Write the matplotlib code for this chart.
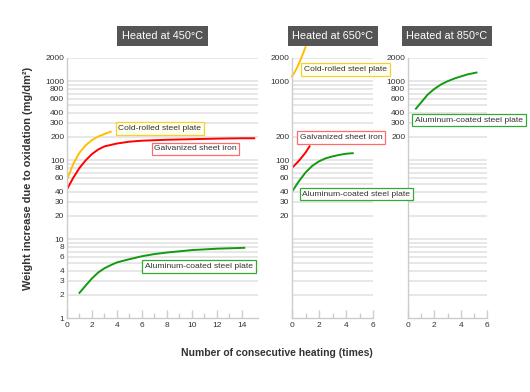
import matplotlib.pyplot as plt
from matplotlib.ticker import FixedLocator, NullFormatter, NullLocator

plt.rcParams['font.family'] = ['Liberation Sans', 'DejaVu Sans']

# ----- data -----
# heated at 450 C
cold_450_x = [0, 0.5, 1, 1.5, 2, 2.5, 3, 3.5]
cold_450_y = [57, 90, 125, 155, 180, 200, 215, 230]
galv_450_x = [0, 0.5, 1, 1.5, 2, 2.5, 3, 4, 5, 6, 8, 10, 12, 14, 15]
galv_450_y = [43, 60, 80, 100, 120, 137, 150, 163, 172, 177, 182, 185, 188, 190, 190]
alu_450_x = [1, 1.5, 2, 2.5, 3, 3.5, 4, 5, 6, 7, 8, 10, 12, 14.2]
alu_450_y = [2.1, 2.6, 3.2, 3.8, 4.3, 4.7, 5.1, 5.6, 6.1, 6.5, 6.8, 7.3, 7.6, 7.8]

# heated at 650 C
cold_650_x = [0, 0.25, 0.5, 0.75, 1.0]
cold_650_y = [1150, 1350, 1650, 2100, 2700]
galv_650_x = [0, 0.5, 1, 1.3]
galv_650_y = [80, 98, 125, 150]
alu_650_x = [0, 0.5, 1, 1.5, 2, 2.5, 3, 3.5, 4, 4.5]
alu_650_y = [40, 54, 70, 85, 97, 106, 112, 117, 121, 123]

# heated at 850 C
alu_850_x = [0.6, 1, 1.5, 2, 2.5, 3, 3.5, 4, 4.5, 5.2]
alu_850_y = [450, 540, 680, 800, 910, 1000, 1080, 1150, 1220, 1290]

grid_vals = [2, 3, 4, 5, 6, 7, 8, 9, 10, 20, 30, 40, 50, 60, 70, 80, 90,
             100, 200, 300, 400, 500, 600, 700, 800, 900, 1000, 2000]
labels_450 = [1, 2, 3, 4, 6, 8, 10, 20, 30, 40, 60, 80, 100, 200, 300, 400, 600, 800, 1000, 2000]
labels_650 = [20, 30, 40, 60, 80, 100, 200, 1000, 2000]
labels_850 = [200, 300, 400, 600, 800, 1000, 2000]

YELLOW = '#ffc000'
RED = '#ff0000'
GREEN = '#129a12'
GRID = '#e0e0e0'
TEXT = '#333333'

fig = plt.figure(figsize=(5.3, 3.92), dpi=100)

W, H = 530.0, 392.0
bottom = 1 - 318.3 / H
height = (318.3 - 57.5) / H
ax1 = fig.add_axes([67 / W, bottom, 191 / W, height])
ax2 = fig.add_axes([292 / W, bottom, 81 / W, height])
ax3 = fig.add_axes([408 / W, bottom, 79 / W, height])


def setup_axis(ax, xmax, xmajor, ylabels, title, title_x):
    ax.set_yscale('log')
    ax.set_ylim(1, 2000)
    ax.set_xlim(0, xmax)
    for v in grid_vals:
        ax.axhline(v, color=GRID, lw=1.1, zorder=0)
    ax.yaxis.set_major_locator(FixedLocator(ylabels))
    ax.yaxis.set_minor_locator(NullLocator())
    ax.yaxis.set_minor_formatter(NullFormatter())
    ax.set_yticklabels([str(v) for v in ylabels])
    ax.tick_params(axis='y', length=0, pad=2, labelsize=6, labelcolor=TEXT)
    ax.set_xticks(xmajor)
    ax.set_xticks([v + 1 for v in xmajor[:-1]], minor=True)
    ax.tick_params(axis='x', which='major', direction='in', length=6, width=1,
                   color='#cccccc', labelsize=6, labelcolor=TEXT, pad=2.5)
    ax.tick_params(axis='x', which='minor', direction='in', length=3.5, width=1,
                   color='#cccccc')
    for s in ['top', 'right']:
        ax.spines[s].set_visible(False)
    for s in ['left', 'bottom']:
        ax.spines[s].set_color('#cccccc')
        ax.spines[s].set_linewidth(1.0)
    fig.text(title_x / W, 1 - 36 / H, title, ha='center', va='center',
             color='white', fontsize=7.8,
             bbox=dict(boxstyle='square,pad=0.42', fc='#555555', ec='none'))


def tag(ax, x, y, text, edge, face='white'):
    # label boxes are placed in pixel coords of the figure
    fig.text(x / W, 1 - y / H, text, ha='center', va='center', fontsize=6.1,
             color=TEXT,
             bbox=dict(boxstyle='square,pad=0.3', fc=face, ec=edge, lw=0.9))


setup_axis(ax1, 15.3, [0, 2, 4, 6, 8, 10, 12, 14], labels_450, 'Heated at 450\u00b0C', 162.5)
setup_axis(ax2, 6, [0, 2, 4, 6], labels_650, 'Heated at 650\u00b0C', 333)
setup_axis(ax3, 6, [0, 2, 4, 6], labels_850, 'Heated at 850\u00b0C', 447)

ax1.plot(cold_450_x, cold_450_y, color=YELLOW, lw=1.4)
ax1.plot(galv_450_x, galv_450_y, color=RED, lw=1.4)
ax1.plot(alu_450_x, alu_450_y, color=GREEN, lw=1.4)

ax2.plot(cold_650_x, cold_650_y, color=YELLOW, lw=1.4, clip_on=False)
ax2.plot(galv_650_x, galv_650_y, color=RED, lw=1.4)
ax2.plot(alu_650_x, alu_650_y, color=GREEN, lw=1.4)

ax3.plot(alu_850_x, alu_850_y, color=GREEN, lw=1.4)

tag(ax1, 160, 128.5, 'Cold-rolled steel plate', '#f5d030', '#fffff0')
tag(ax1, 195.5, 149, 'Galvanized sheet iron', '#ff6a6a')
tag(ax1, 199, 266.5, 'Aluminum-coated steel plate', '#33aa33')
tag(ax2, 345.5, 69.5, 'Cold-rolled steel plate', '#f5d030', '#fffff0')
tag(ax2, 341, 137.5, 'Galvanized sheet iron', '#ff6a6a')
tag(ax2, 356.5, 194, 'Aluminum-coated steel plate', '#33aa33')
tag(ax3, 469, 120, 'Aluminum-coated steel plate', '#33aa33')

fig.text(28 / W, 1 - 178 / H, 'Weight increase due to oxidation (mg/dm\u00b2)',
         rotation=90, ha='center', va='center', fontsize=7.9, fontweight='bold',
         color=TEXT)
fig.text(277 / W, 1 - 353 / H, 'Number of consecutive heating (times)',
         ha='center', va='center', fontsize=7.5, fontweight='bold', color=TEXT)

fig.savefig('out.png', dpi=100)
